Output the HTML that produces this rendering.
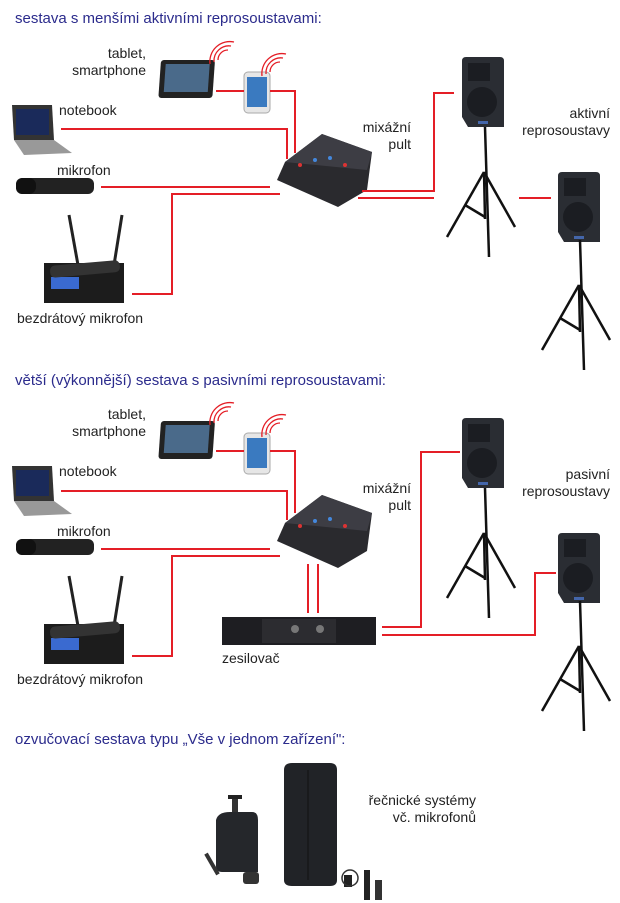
<!DOCTYPE html>
<html><head><meta charset="utf-8"><style>
html,body{margin:0;padding:0;background:#fff;}
svg{display:block;}
text{font-family:"Liberation Sans",sans-serif;font-size:14px;fill:#222;}
.t{fill:#2b2b8c;font-size:15px;}
.r{stroke:#e41e26;stroke-width:2;fill:none;}
.w{stroke:#e41e26;stroke-width:1.3;fill:none;}
</style></head><body>
<svg width="620" height="903" viewBox="0 0 620 903" xmlns="http://www.w3.org/2000/svg">
<defs>
<g id="tablet"><rect x="0" y="0" width="54" height="38" rx="3" fill="#222" transform="skewX(-4)"/><rect x="5" y="4" width="44" height="28" fill="#4a6a8a" transform="skewX(-4)"/></g>
<g id="phone"><rect x="0" y="0" width="26" height="41" rx="4" fill="#e6e6e6" stroke="#aaa"/><rect x="3" y="5" width="20" height="30" fill="#3a7ac0"/></g>
<g id="waves"><path class="w" d="M0 10 A10 10 0 0 1 10 0 M-4 12 A15 15 0 0 1 13 -4 M-8 14 A20 20 0 0 1 16 -8"/></g>
<g id="laptop"><polygon points="0,0 40,0 42,35 2,35" fill="#333"/><rect x="4" y="4" width="33" height="26" fill="#1a2a5a"/><polygon points="2,35 42,35 60,48 12,50" fill="#999"/></g>
<g id="mic"><rect x="0" y="0" width="78" height="16" rx="6" fill="#222"/><rect x="0" y="0" width="20" height="16" rx="7" fill="#111"/></g>
<g id="recv"><line x1="25" y1="0" x2="34" y2="50" stroke="#222" stroke-width="3"/><line x1="78" y1="0" x2="70" y2="50" stroke="#222" stroke-width="3"/><rect x="0" y="48" width="80" height="40" fill="#1c1c1c"/><rect x="7" y="62" width="28" height="12" fill="#3a6ad0"/><rect x="6" y="48" width="70" height="12" rx="5" fill="#333" transform="rotate(-5 40 54)"/></g>
<g id="mixer"><polygon points="322,134 372,152 367,190 338,207 277,180 285,162" fill="#2a2a2e"/><polygon points="322,134 372,152 367,170 285,162" fill="#3d3d44"/><circle cx="300" cy="165" r="2" fill="#d33"/><circle cx="315" cy="160" r="2" fill="#48d"/><circle cx="330" cy="158" r="2" fill="#48d"/><circle cx="345" cy="165" r="2" fill="#d33"/></g>
<g id="spk"><path d="M0 4 Q0 0 4 0 L38 0 Q42 0 42 4 L42 70 L6 70 L0 60Z" fill="#2a2d33"/><circle cx="20" cy="45" r="15" fill="#1b1d22"/><rect x="6" y="6" width="22" height="18" fill="#1b1d22"/><rect x="16" y="64" width="10" height="3" fill="#46a"/></g>
<g id="stand" stroke="#111" stroke-width="2.5" fill="none"><line x1="0" y1="0" x2="4" y2="130"/><line x1="-1" y1="45" x2="-38" y2="110"/><line x1="-1" y1="45" x2="30" y2="100"/><line x1="-1" y1="45" x2="0" y2="92"/><line x1="-20" y1="78" x2="0" y2="90"/></g>
</defs>

<text class="t" x="15" y="23">sestava s menšími aktivními reprosoustavami:</text>
<text class="t" x="15" y="385">větší (výkonnější) sestava s pasivními reprosoustavami:</text>
<text class="t" x="15" y="744">ozvučovací sestava typu „Vše v jednom zařízení":</text>

<!-- section 1 -->
<g>
<use href="#tablet" x="161" y="60"/>
<use href="#phone" x="244" y="72"/>
<use href="#waves" x="218" y="50"/><use href="#waves" x="270" y="62"/>
<use href="#laptop" x="12" y="105"/>
<use href="#mic" x="16" y="178"/>
<use href="#recv" x="44" y="215"/>
<use href="#mixer"/>
<use href="#spk" x="462" y="57"/><use href="#stand" x="485" y="127"/>
<use href="#spk" x="558" y="172"/><use href="#stand" x="580" y="240"/>
<path class="r" d="M216 91H244 M270 91H295V153 M61 129H287V159 M101 187H270 M132 294H172V194H280 M362 191H434V93H454 M358 198H434 M519 198H551"/>
<text x="146" y="58" text-anchor="end">tablet,</text>
<text x="146" y="75" text-anchor="end">smartphone</text>
<text x="59" y="115">notebook</text>
<text x="57" y="175">mikrofon</text>
<text x="17" y="323">bezdrátový mikrofon</text>
<text x="411" y="132" text-anchor="end">mixážní</text>
<text x="411" y="149" text-anchor="end">pult</text>
<text x="610" y="118" text-anchor="end">aktivní</text>
<text x="610" y="135" text-anchor="end">reprosoustavy</text>
</g>

<!-- section 2 -->
<g transform="translate(0,361)">
<use href="#tablet" x="161" y="60"/>
<use href="#phone" x="244" y="72"/>
<use href="#waves" x="218" y="50"/><use href="#waves" x="270" y="62"/>
<use href="#laptop" x="12" y="105"/>
<use href="#mic" x="16" y="178"/>
<use href="#recv" x="44" y="215"/>
<use href="#mixer"/>
<use href="#spk" x="462" y="57"/><use href="#stand" x="485" y="127"/>
<use href="#spk" x="558" y="172"/><use href="#stand" x="580" y="240"/>
<rect x="222" y="256" width="154" height="28" fill="#1e1e22"/><rect x="262" y="258" width="74" height="24" fill="#2c2c30"/><circle cx="295" cy="268" r="4" fill="#777"/><circle cx="320" cy="268" r="4" fill="#777"/>
<path class="r" d="M216 90H244 M270 90H295V152 M61 130H287V159 M101 188H270 M132 295H172V195H280 M308 203V252 M318 203V252 M382 266H421V91H460 M382 274H535V212H556"/>
<text x="146" y="58" text-anchor="end">tablet,</text>
<text x="146" y="75" text-anchor="end">smartphone</text>
<text x="59" y="115">notebook</text>
<text x="57" y="175">mikrofon</text>
<text x="17" y="323">bezdrátový mikrofon</text>
<text x="411" y="132" text-anchor="end">mixážní</text>
<text x="411" y="149" text-anchor="end">pult</text>
<text x="222" y="302">zesilovač</text>
<text x="610" y="118" text-anchor="end">pasivní</text>
<text x="610" y="135" text-anchor="end">reprosoustavy</text>
</g>

<!-- section 3 -->
<rect x="232" y="798" width="6" height="18" fill="#333"/><rect x="228" y="795" width="14" height="4" fill="#222"/>
<path d="M216 820 Q218 812 230 812 L252 812 Q258 812 258 820 L258 872 L222 872 Q216 872 216 866Z" fill="#25272b"/>
<rect x="210" y="852" width="4" height="24" fill="#333" transform="rotate(-30 212 864)"/>
<rect x="243" y="872" width="16" height="12" rx="3" fill="#333"/>
<path d="M284 770 Q284 763 292 763 L330 763 Q337 763 337 770 L337 880 Q337 886 330 886 L292 886 Q284 886 284 880Z" fill="#212327"/>
<line x1="308" y1="770" x2="308" y2="880" stroke="#111"/>
<rect x="344" y="875" width="8" height="12" fill="#222"/><rect x="364" y="870" width="6" height="30" fill="#222"/><rect x="375" y="880" width="7" height="20" fill="#333"/>
<circle cx="350" cy="878" r="8" fill="none" stroke="#333" stroke-width="1.5"/>
<text x="476" y="805" text-anchor="end">řečnické systémy</text>
<text x="476" y="822" text-anchor="end">vč. mikrofonů</text>
</svg>
</body></html>
